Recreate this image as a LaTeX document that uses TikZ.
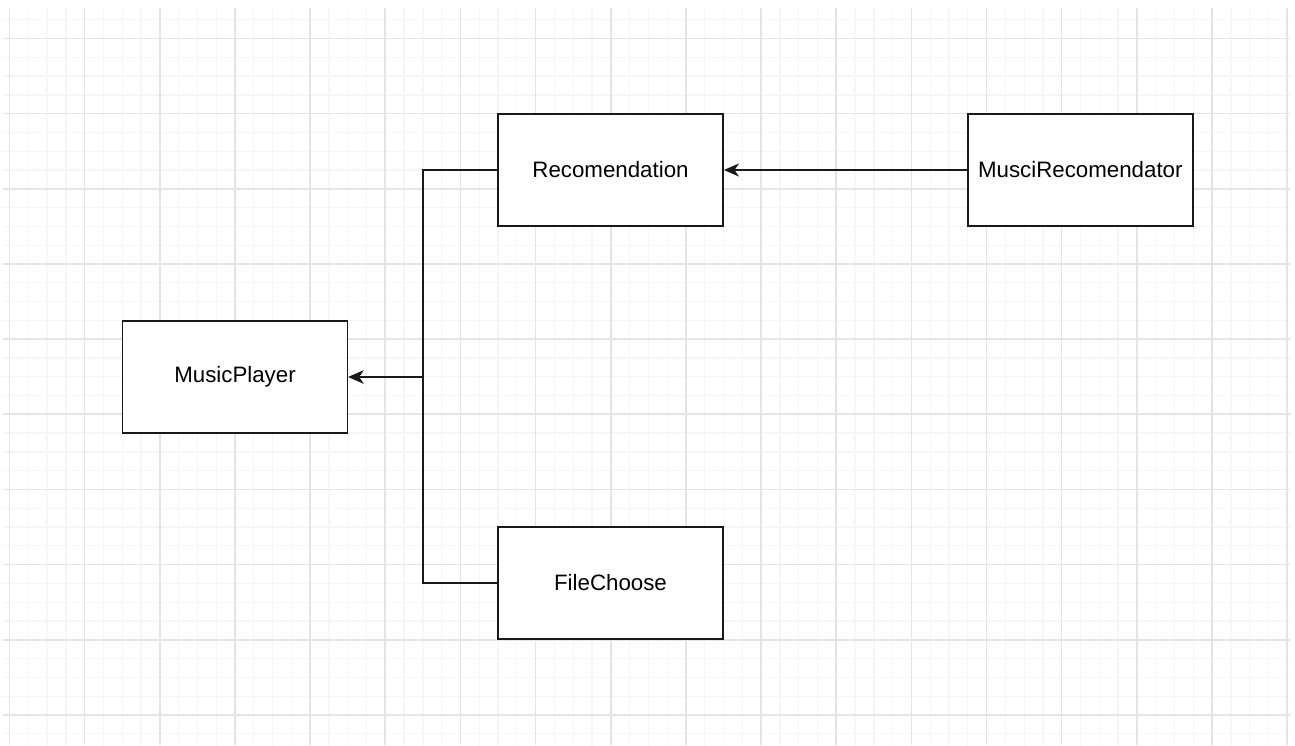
\documentclass[tikz,border=0pt]{standalone}
\usepackage{fontspec}
\setmainfont{Liberation Sans}
\usetikzlibrary{arrows.meta}
\definecolor{gridmajor}{RGB}{228,228,228}
\definecolor{gridminor}{RGB}{246,246,246}
\tikzset{
  box/.style={draw=black!90, line width=1.9pt, fill=white, minimum width=225pt, minimum height=112pt, inner sep=0pt, font=\fontsize{22.3}{26}\selectfont},
  conn/.style={draw=black!90, line width=1.9pt},
  arr/.style={conn, -{Stealth[length=15pt,width=13pt,inset=4.5pt]}},
}
\begin{document}
\begin{tikzpicture}[x=1pt,y=-1pt]
\useasboundingbox (0,0) rectangle (1295,745);
\fill[white] (0,0) rectangle (1295,745);
\begin{scope}
\clip (3,8) rectangle (1290,745);
\foreach \i in {0,...,68} {
  \draw[gridminor, line width=1.3pt] ({9.5+18.79*\i},0) -- ({9.5+18.79*\i},745);
}
\foreach \i in {-1,...,38} {
  \draw[gridminor, line width=1.3pt] (0,{38.5+18.79*\i}) -- (1295,{38.5+18.79*\i});
}
\foreach \i in {0,...,17} {
  \draw[gridmajor, line width=1.6pt] ({9.5+75.15*\i},0) -- ({9.5+75.15*\i},745);
}
\foreach \i in {0,...,9} {
  \draw[gridmajor, line width=1.6pt] (0,{38.5+75.15*\i}) -- (1295,{38.5+75.15*\i});
}
\end{scope}

\node[box] (rec) at (610.5,170) {Recomendation};
\node[box] (mr) at (1080.3,170) {MusciRecomendator};
\node[box] (mp) at (235,377) {MusicPlayer};
\node[box] (fc) at (610.5,583) {FileChoose};

\coordinate (j) at (423,377);

\draw[arr] (mr.west) -- (rec.east);
\draw[arr] (rec.west) -| (j) -- (mp.east);
\draw[arr] (fc.west) -| (j) -- (mp.east);
\end{tikzpicture}
\end{document}
